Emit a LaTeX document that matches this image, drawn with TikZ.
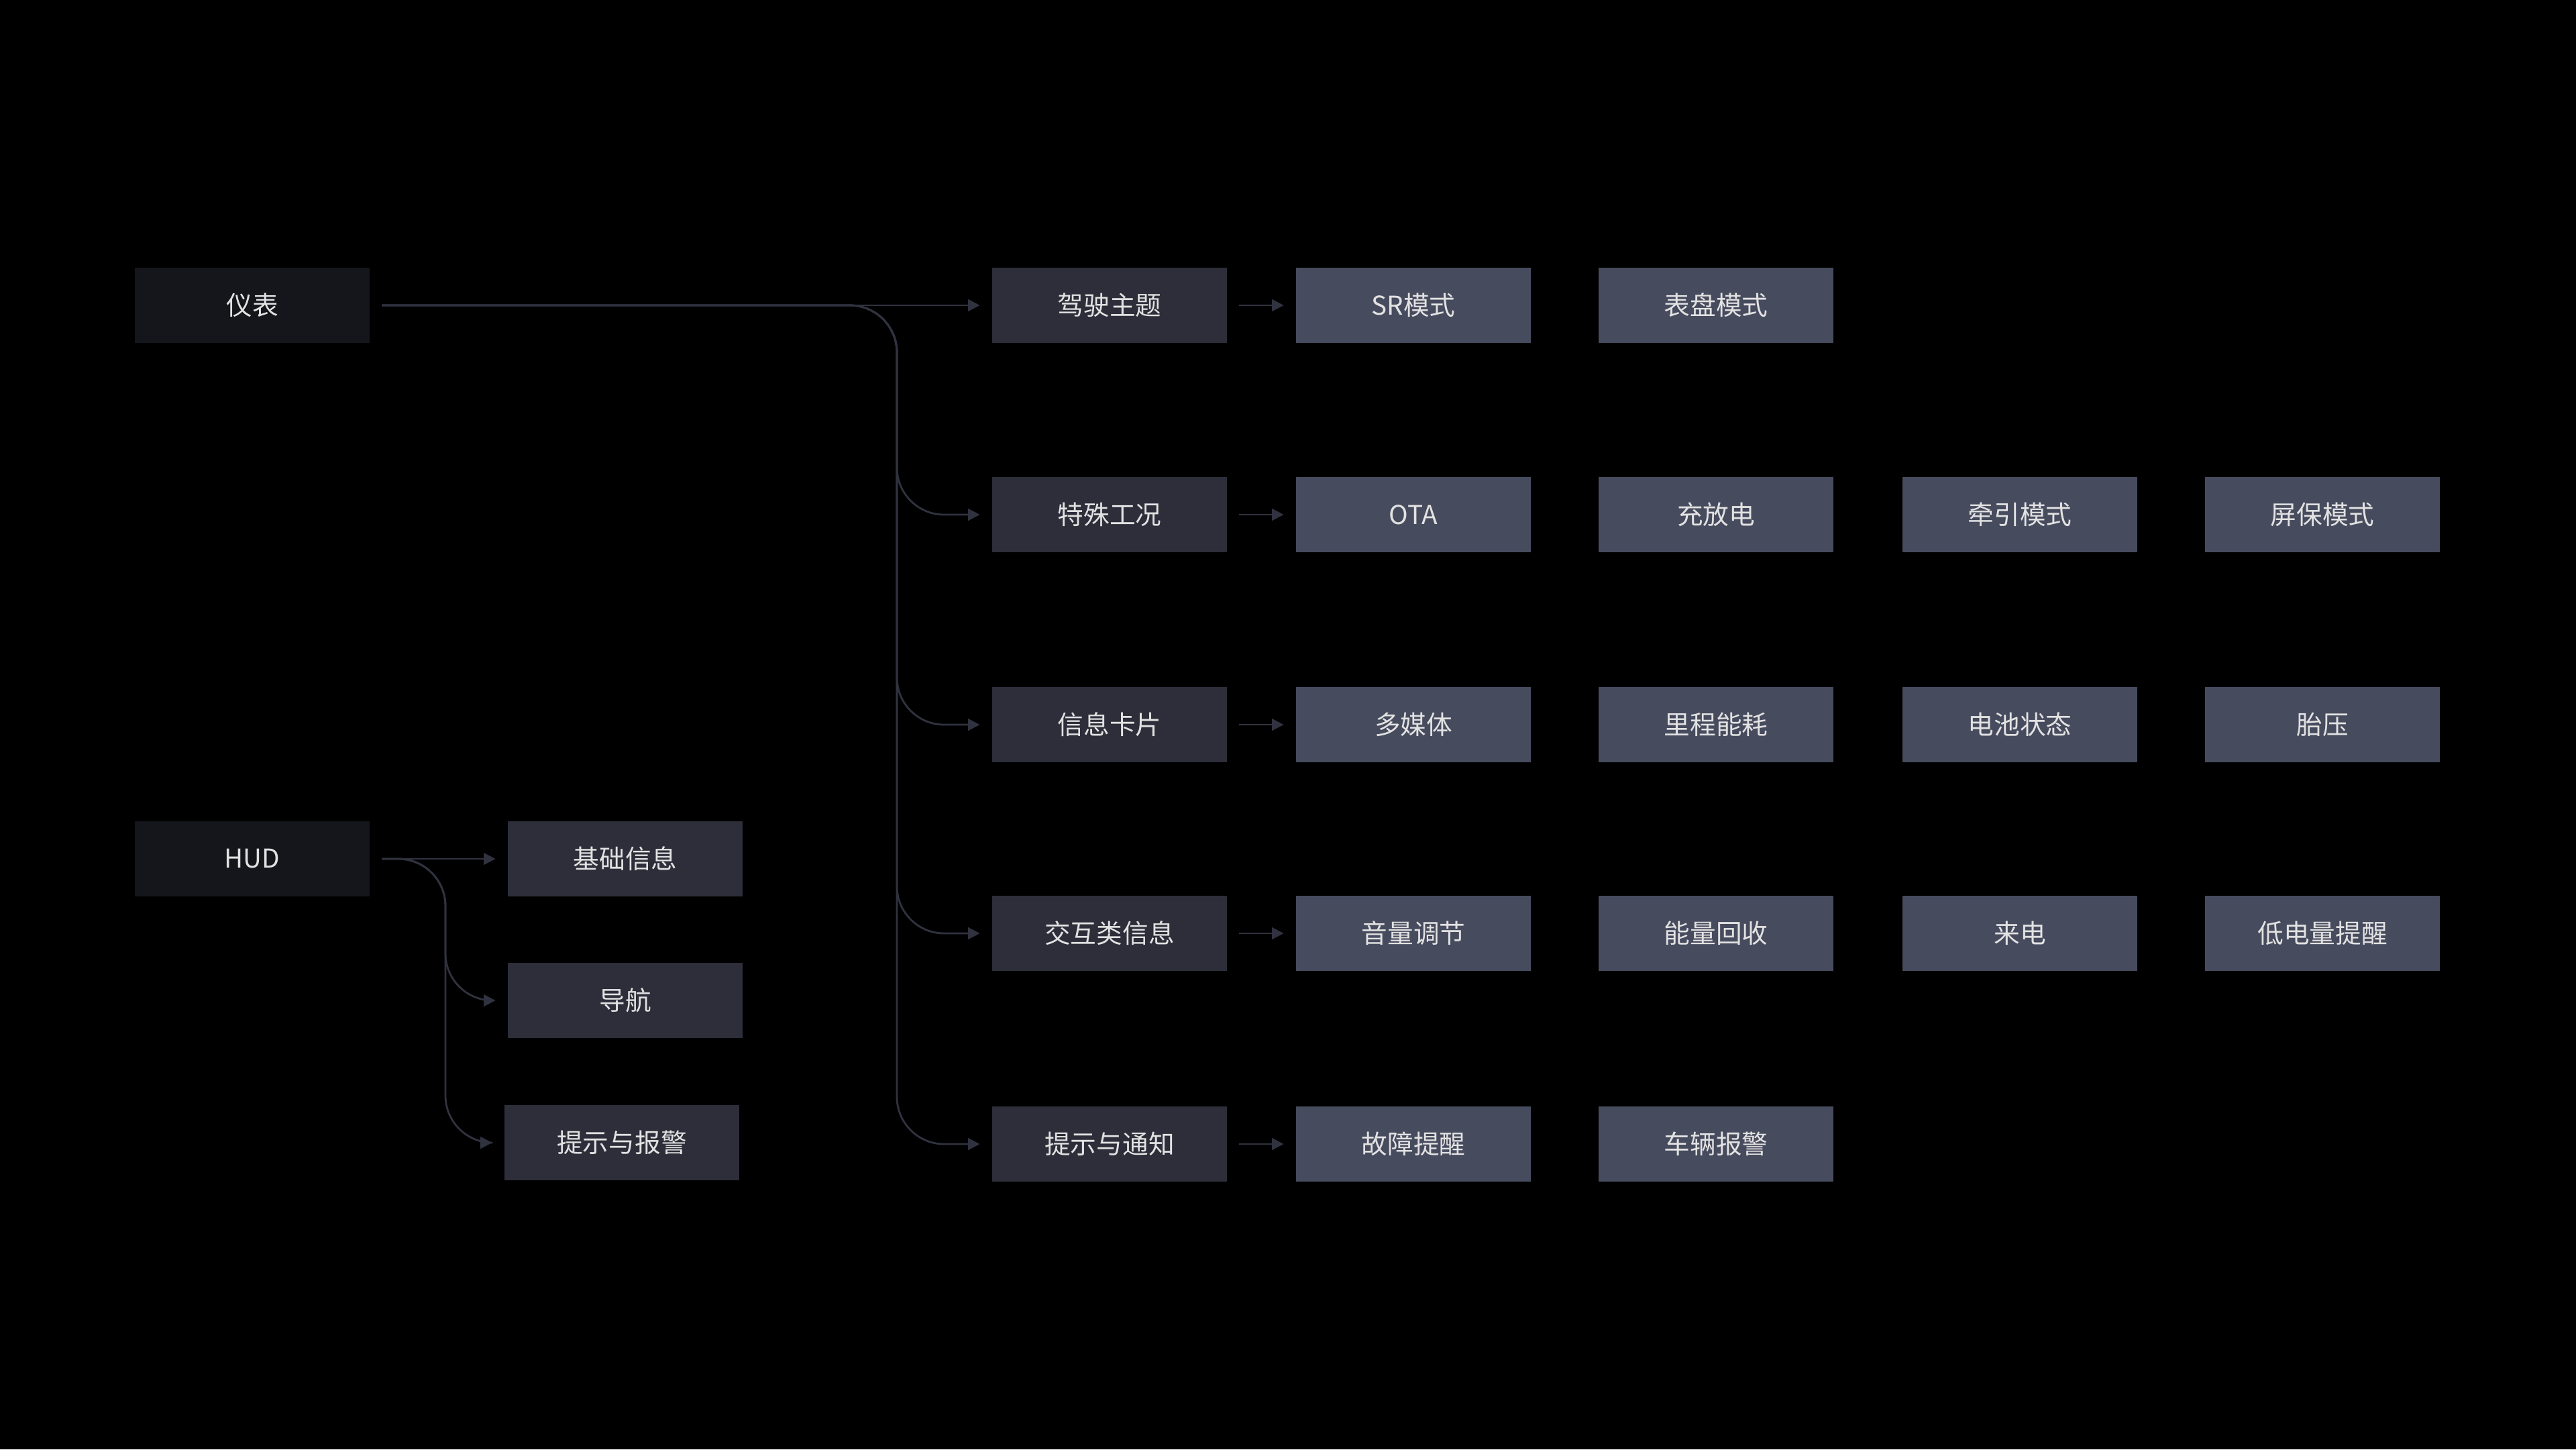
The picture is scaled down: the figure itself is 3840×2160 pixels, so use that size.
\documentclass[tikz,border=0pt]{standalone}
\usepackage{fontspec}
\newfontfamily\cjk{Noto Sans CJK SC}
\usetikzlibrary{arrows.meta}
\definecolor{rootc}{HTML}{15161B}
\definecolor{midc}{HTML}{2D2E3A}
\definecolor{leafc}{HTML}{474B5E}
\definecolor{linec}{HTML}{30323F}
\definecolor{txtc}{HTML}{E2E2E2}
\tikzset{
  box/.style={rectangle, minimum width=3.5cm, minimum height=1.12cm, inner sep=0pt, text=txtc, font=\cjk\fontsize{11}{13}\selectfont},
  root/.style={box, fill=rootc},
  mid/.style={box, fill=midc},
  leaf/.style={box, fill=leafc},
  link/.style={draw=linec, line width=0.8pt, -{Triangle[length=5pt,width=5pt]}, shorten >=5pt},
}
\begin{document}
\begin{tikzpicture}[x=0.01cm,y=-0.01cm]
		\fill[black] (0,0) rectangle (3840,2160);
		\node (yibiao) [root] at (376,455) {仪表};
		\node (hud) [root] at (376,1280) {HUD};
		\node (jichu) [mid] at (932,1280) {基础信息};
		\node (daohang) [mid] at (932,1491) {导航};
		\node (tishi) [mid] at (927,1703) {提示与报警};
		\node (jiashi) [mid] at (1654,455) {驾驶主题};
		\node (tesu) [mid] at (1654,767) {特殊工况};
		\node (kapian) [mid] at (1654,1080) {信息卡片};
		\node (jiaohu) [mid] at (1654,1391) {交互类信息};
		\node (tongzhi) [mid] at (1654,1705) {提示与通知};
		\node (sr) [leaf] at (2107,455) {SR模式};
		\node (biaopan) [leaf] at (2558,455) {表盘模式};
		\node (ota) [leaf] at (2107,767) {OTA};
		\node (chong) [leaf] at (2558,767) {充放电};
		\node (qianyin) [leaf] at (3011,767) {牵引模式};
		\node (pingbao) [leaf] at (3462,767) {屏保模式};
		\node (duomeiti) [leaf] at (2107,1080) {多媒体};
		\node (licheng) [leaf] at (2558,1080) {里程能耗};
		\node (dianchi) [leaf] at (3011,1080) {电池状态};
		\node (taiya) [leaf] at (3462,1080) {胎压};
		\node (yinliang) [leaf] at (2107,1391) {音量调节};
		\node (nengliang) [leaf] at (2558,1391) {能量回收};
		\node (laidian) [leaf] at (3011,1391) {来电};
		\node (didian) [leaf] at (3462,1391) {低电量提醒};
		\node (guzhang) [leaf] at (2107,1705) {故障提醒};
		\node (cheliang) [leaf] at (2558,1705) {车辆报警};
		\coordinate (br1) at (1337,455);
		\coordinate (br2) at (664,1280);

		% Arrows
		\draw[link, shorten <=5pt] (yibiao) -- (jiashi);
		\foreach \t in {tesu,kapian,jiaohu,tongzhi}
			\draw[link, rounded corners=20] ([xshift=5pt]yibiao.east) -- (br1) |- (\t.west);
		\draw[link, shorten <=5pt] (hud) -- (jichu);
		\foreach \t in {daohang,tishi}
			\draw[link, rounded corners=20] ([xshift=5pt]hud.east) -- (br2) |- (\t.west);
		\foreach \a/\b in {jiashi/sr,tesu/ota,kapian/duomeiti,jiaohu/yinliang,tongzhi/guzhang}
			\draw[link, shorten <=5pt] (\a) -- (\b);
	\end{tikzpicture}
\end{document}
